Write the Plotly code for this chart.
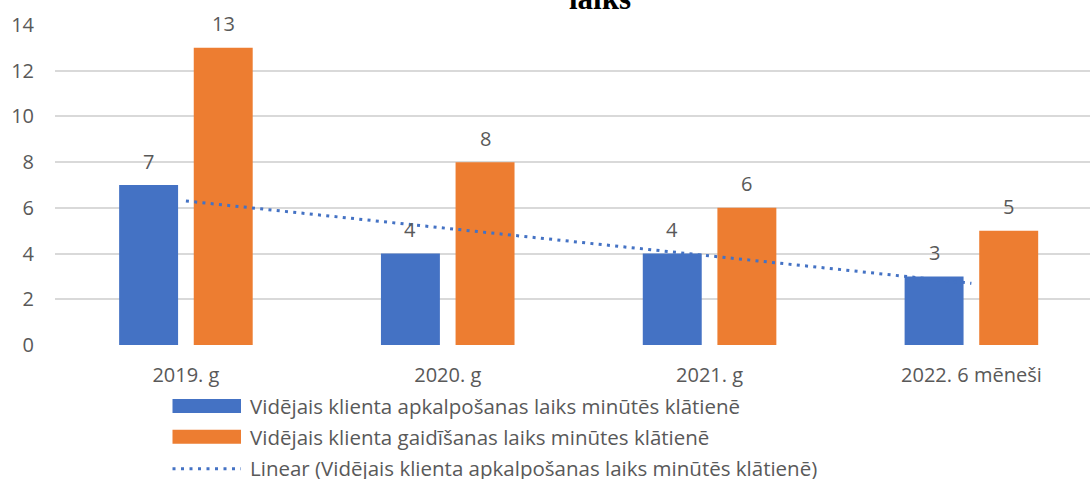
import numpy as np
import plotly.graph_objects as go

# ---- data ----
categories = ["2019. g", "2020. g", "2021. g", "2022. 6 mēneši"]
service_time = [7, 4, 4, 3]     # Vidējais klienta apkalpošanas laiks
waiting_time = [13, 8, 6, 5]    # Vidējais klienta gaidīšanas laiks
y_ticks = [0, 2, 4, 6, 8, 10, 12, 14]
series_names = [
    "Vidējais klienta apkalpošanas laiks minūtēs klātienē",
    "Vidējais klienta gaidīšanas laiks minūtes klātienē",
    "Linear (Vidējais klienta apkalpošanas laiks minūtēs klātienē)",
]
title_text = "laiks"

# ---- style ----
BLUE = "#4472C4"
ORANGE = "#ED7D31"
GRAY = "#595959"
FONT = "Open Sans"
W, H = 1090, 479
ML, MR, MT, MB = 55, 0, 24.5, 134
PW, PH = W - ML - MR, H - MT - MB


def px_x(x):
    return (x - ML) / PW


def px_y(y):
    return (H - MB - y) / PH


fig = go.Figure()
fig.add_trace(go.Bar(x=categories, y=service_time, name=series_names[0],
                     marker=dict(color=BLUE, line=dict(width=0)), showlegend=False))
fig.add_trace(go.Bar(x=categories, y=waiting_time, name=series_names[1],
                     marker=dict(color=ORANGE, line=dict(width=0)), showlegend=False))

# linear trend of the service-time series
idx = np.arange(len(categories))
slope, intercept = np.polyfit(idx, service_time, 1)
trend = slope * idx + intercept
fig.add_trace(go.Scatter(x=categories, y=trend, mode="lines", name=series_names[2],
                         line=dict(color=BLUE, width=3, dash="3px,5.3px"),
                         showlegend=False))

annotations = []
# data labels
for vals, shift in ((service_time, -37.3), (waiting_time, 37.3)):
    for c, v in zip(categories, vals):
        annotations.append(dict(x=c, y=v, xref="x", yref="y", text=str(v),
                                showarrow=False, xshift=shift, yshift=24,
                                yanchor="middle",
                                font=dict(family=FONT, size=20, color=GRAY)))

# title (partially cut at the top, as in the reference)
annotations.append(dict(x=px_x(600), y=px_y(17), xref="paper", yref="paper",
                        text="<b>" + title_text + "</b>", showarrow=False,
                        xanchor="center", yanchor="bottom",
                        font=dict(family="Liberation Serif", size=31, color="black")))

# legend (manual, Excel-like swatches)
shapes = []
rows_y = [406, 437, 468]
sw_x0, sw_x1 = 172.5, 241
shapes.append(dict(type="rect", xref="paper", yref="paper",
                   x0=px_x(sw_x0), x1=px_x(sw_x1), y0=px_y(399), y1=px_y(413),
                   fillcolor=BLUE, line=dict(width=0)))
shapes.append(dict(type="rect", xref="paper", yref="paper",
                   x0=px_x(sw_x0), x1=px_x(sw_x1), y0=px_y(430), y1=px_y(444),
                   fillcolor=ORANGE, line=dict(width=0)))
shapes.append(dict(type="line", xref="paper", yref="paper",
                   x0=px_x(sw_x0), x1=px_x(sw_x1), y0=px_y(469), y1=px_y(469),
                   line=dict(color=BLUE, width=3, dash="3px,5.5px")))
for name, ry in zip(series_names, rows_y):
    annotations.append(dict(x=px_x(248), y=px_y(ry), xref="paper", yref="paper",
                            text=name, showarrow=False, xanchor="left", yanchor="middle",
                            font=dict(family=FONT, size=20.5, color=GRAY)))

fig.update_layout(
    width=W, height=H,
    margin=dict(l=ML, r=MR, t=MT, b=MB, pad=0),
    paper_bgcolor="white", plot_bgcolor="white",
    barmode="group", bargap=0.43, bargroupgap=0.21,
    showlegend=False,
    annotations=annotations, shapes=shapes,
    font=dict(family=FONT, color=GRAY),
)
fig.update_xaxes(type="category", range=[-0.5, 3.453], showgrid=False, zeroline=False,
                 showline=False, ticks="", ticklabelstandoff=16,
                 tickfont=dict(family=FONT, size=20, color=GRAY))
fig.update_yaxes(range=[0, 14], tickvals=y_ticks, showgrid=True, gridcolor="#D9D9D9",
                 gridwidth=1.5, zeroline=False, showline=False, ticks="",
                 ticklabelstandoff=20,
                 tickfont=dict(family=FONT, size=20, color=GRAY))

fig.write_html("out.html",
               config={"displayModeBar": False},
               post_script="document.body.style.margin='0';"
                           "document.body.style.overflow='hidden';")
